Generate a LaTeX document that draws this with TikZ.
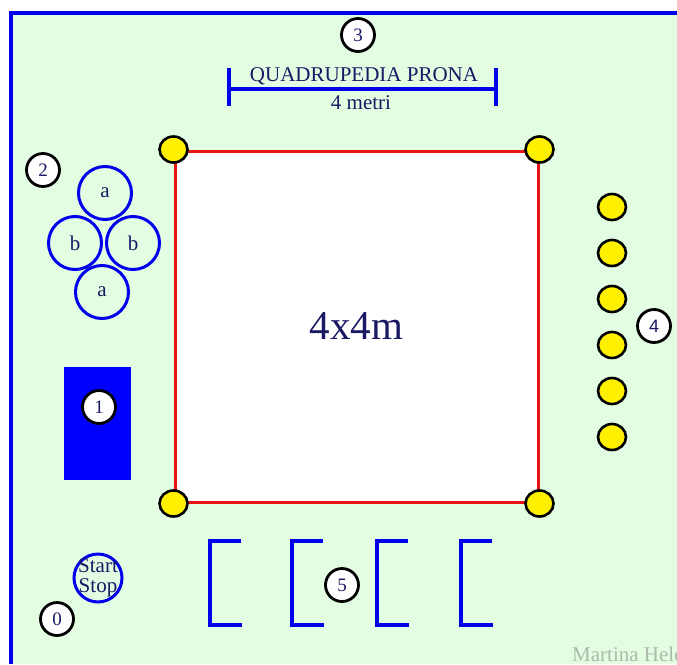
\documentclass[tikz,border=0pt]{standalone}
\usepackage{fontspec}
\setmainfont{Liberation Serif}
\newfontfamily\arialfont{Liberation Sans}
\usetikzlibrary{
    arrows.meta,
    positioning,
    calc,
    shapes.geometric
}
\definecolor{fieldGreen}{RGB}{227,253,227}
\definecolor{frameBlue}{RGB}{0,0,235}
\definecolor{benchBlue}{RGB}{0,0,255}
\definecolor{inkNavy}{RGB}{25,25,100}
\definecolor{lineRed}{RGB}{232,20,20}
\definecolor{coneYellow}{RGB}{255,240,0}
\definecolor{signGray}{RGB}{172,186,172}
\tikzset{
  numc/.style  = {circle, draw=black, line width=2.8pt, fill=white,
                  minimum size=33pt, inner sep=0pt, text=inkNavy,
                  font=\fontsize{19}{19}\selectfont},
  cone/.style  = {ellipse, draw=black, line width=2.6pt, fill=coneYellow,
                  minimum width=28pt, minimum height=26pt, inner sep=0pt},
  hoop/.style  = {circle, draw=frameBlue, line width=3pt,
                  minimum size=53pt, inner sep=0pt, text=inkNavy,
                  font=\fontsize{21}{21}\selectfont},
  bline/.style = {frameBlue, line width=3.5pt},
  lbl/.style   = {text=inkNavy, inner sep=0pt,
                  font=\fontsize{21}{21}\selectfont}
}

\begin{document}
\begin{tikzpicture}[x=1pt,y=-1pt]
\useasboundingbox (0,0) rectangle (677,664);
\begin{scope}
\clip (0,0) rectangle (677,664);
% ground and frame
\fill[fieldGreen] (11,13) rectangle (677,664);
\draw[bline] (11,664) -- (11,13) -- (677,13);
% the 4x4 field
\node[draw=lineRed, line width=3pt, fill=white, minimum width=363pt,
      minimum height=351pt, inner sep=0pt, text=inkNavy,
      font=\fontsize{41}{41}\selectfont] (field) at (356.5,326.5) {4x4m};
\foreach \c/\n in {north west/nw, north east/ne, south west/sw, south east/se}
  \node[cone] (c\n) at (field.\c) {};
% station 3
\node[numc] (n3) at (358,35) {3};
\node[lbl] (title) at (364,76) {QUADRUPEDIA PRONA};
\coordinate (rl) at (229,89);
\coordinate (rr) at (496,89);
\draw[bline] (rl) -- (rr);
\draw[bline] ($(rl)+(0,-21)$) -- ($(rl)+(0,17)$);
\draw[bline] ($(rr)+(0,-21)$) -- ($(rr)+(0,17)$);
\node[lbl] (len) at (361,103) {4 metri};
% station 2: hoops
\node[numc] (n2) at (43,170) {2};
\node[hoop] (a1) at (105,193) {a};
\node[hoop] (b1) at (75,243) {b};
\node[hoop] (b2) at (133,243) {b};
\node[hoop] (a2) at (102,292) {a};
% station 1: bench
\node[fill=benchBlue, minimum width=67pt, minimum height=113pt,
      inner sep=0pt] (bench) at (97.5,423.5) {};
\node[numc] (n1) at (99,407) {1};
% station 4: cones
\foreach \i in {0,...,5}
  \node[cone] (k\i) at (612,{207+46*\i}) {};
\node[numc, font=\arialfont\fontsize{18}{18}\selectfont] (n4) at (654,326) {4};
% start / stop
\node[hoop, minimum size=48pt] (start) at (98,578) {};
\node[lbl, align=center, font=\fontsize{21}{20}\selectfont] (starttxt) at (start) {Start\\Stop};
\node[numc] (n0) at (57,619) {0};
% station 5: hurdles
\foreach \x in {210,292,377,461}
  \draw[bline] ({\x+31},541) -- (\x,541) -- (\x,625) -- ({\x+32},625);
\node[numc] (n5) at (342,585) {5};
\node[anchor=base west, text=signGray, inner sep=0pt,
      font=\fontsize{21}{21}\selectfont] (sign) at (572,661) {Martina Held};
\end{scope}
\end{tikzpicture}
\end{document}
